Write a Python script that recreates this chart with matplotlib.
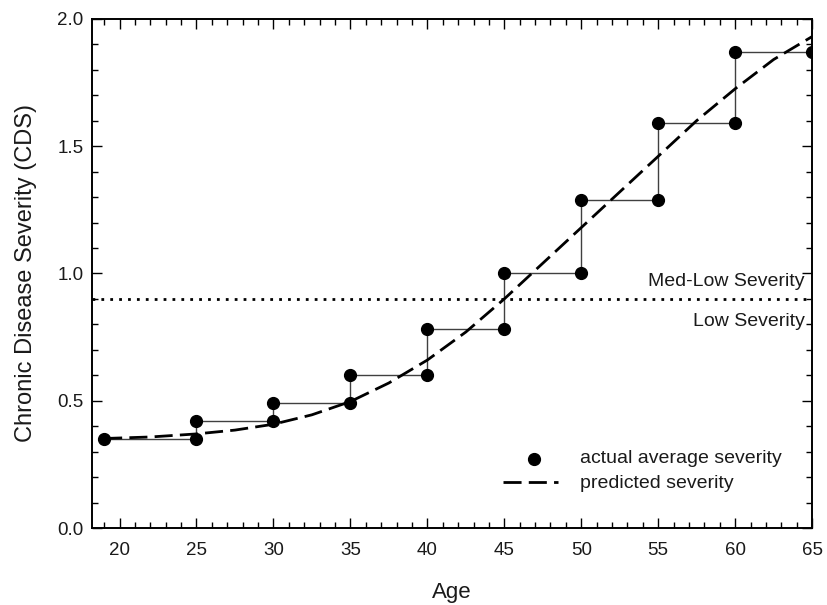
import matplotlib
import numpy as np

matplotlib.use("Agg")
import matplotlib.pyplot as plt
from matplotlib.ticker import MultipleLocator, FormatStrFormatter

plt.rcParams["font.family"] = ["Liberation Sans", "DejaVu Sans"]

# actual average severity: step edges and level of each age band
step_edges = [19, 25, 30, 35, 40, 45, 50, 55, 60, 65]
band_levels = [0.35, 0.42, 0.49, 0.60, 0.78, 1.00, 1.29, 1.59, 1.87]

# predicted severity curve
pred_age = [19, 22, 25, 27.5, 30, 32.5, 35, 37.5, 40, 42.5, 45, 47.5, 50, 52.5, 55, 57.5, 60, 62.5, 65]
pred_cds = [0.352, 0.358, 0.370, 0.385, 0.408, 0.445, 0.497, 0.57, 0.66, 0.77, 0.90,
            1.04, 1.18, 1.32, 1.46, 1.60, 1.725, 1.84, 1.93]

threshold = 0.9

TXT = "#1a1a1a"
DASH = (6.5, 2.6)


def main() -> None:
    fig = plt.figure(figsize=(8.27, 6.05), dpi=100)
    ax = fig.add_axes([0.111, 0.127, 0.871, 0.842])

    # step path: horizontal over each band, vertical at each boundary
    xs, ys = [], []
    for i, level in enumerate(band_levels):
        xs += [step_edges[i], step_edges[i + 1]]
        ys += [level, level]
    ax.plot(xs, ys, color="#404040", linewidth=1.0, zorder=2)
    ax.plot(xs, ys, "o", color="black", markersize=8.5, linestyle="none", zorder=4)

    ax.plot(pred_age, pred_cds, color="black", linewidth=2.0, dashes=DASH, zorder=3)

    ax.axhline(threshold, color="black", linewidth=2.0, linestyle=(0, (1, 2.2)), zorder=1)
    ax.text(64.5, 0.97, "Med-Low Severity", ha="right", va="center", fontsize=14, color=TXT)
    ax.text(64.5, 0.813, "Low Severity", ha="right", va="center", fontsize=14, color=TXT)

    # legend drawn by hand to match the reference placement
    ax.plot([46.9], [0.272], "o", color="black", markersize=8.5)
    ax.text(49.9, 0.275, "actual average severity", va="center", fontsize=14, color=TXT)
    ax.plot([44.9, 48.5], [0.18, 0.18], color="black", linewidth=2.0, dashes=DASH)
    ax.text(49.9, 0.177, "predicted severity", va="center", fontsize=14, color=TXT)

    ax.set_xlim(18.2, 65)
    ax.set_ylim(0, 2.0)
    ax.xaxis.set_major_locator(MultipleLocator(5))
    ax.xaxis.set_minor_locator(MultipleLocator(1))
    ax.yaxis.set_major_locator(MultipleLocator(0.5))
    ax.yaxis.set_minor_locator(MultipleLocator(0.1))
    ax.yaxis.set_major_formatter(FormatStrFormatter("%.1f"))
    ax.tick_params(which="both", direction="in", top=True, right=True, labelsize=13.5, colors="black",
                   labelcolor=TXT)
    ax.tick_params(which="major", length=7, width=1)
    ax.tick_params(which="minor", length=4, width=1)
    ax.tick_params(axis="x", pad=10)
    ax.tick_params(axis="y", pad=6)
    for spine in ax.spines.values():
        spine.set_linewidth(1.4)

    ax.set_xlabel("Age", fontsize=16, color=TXT)
    ax.set_ylabel("Chronic Disease Severity (CDS)", fontsize=17, color=TXT)
    ax.xaxis.set_label_coords(0.5, -0.106)
    ax.yaxis.set_label_coords(-0.076, 0.5)

    fig.savefig("out.png", dpi=100)
    plt.close(fig)


if __name__ == "__main__":
    main()
